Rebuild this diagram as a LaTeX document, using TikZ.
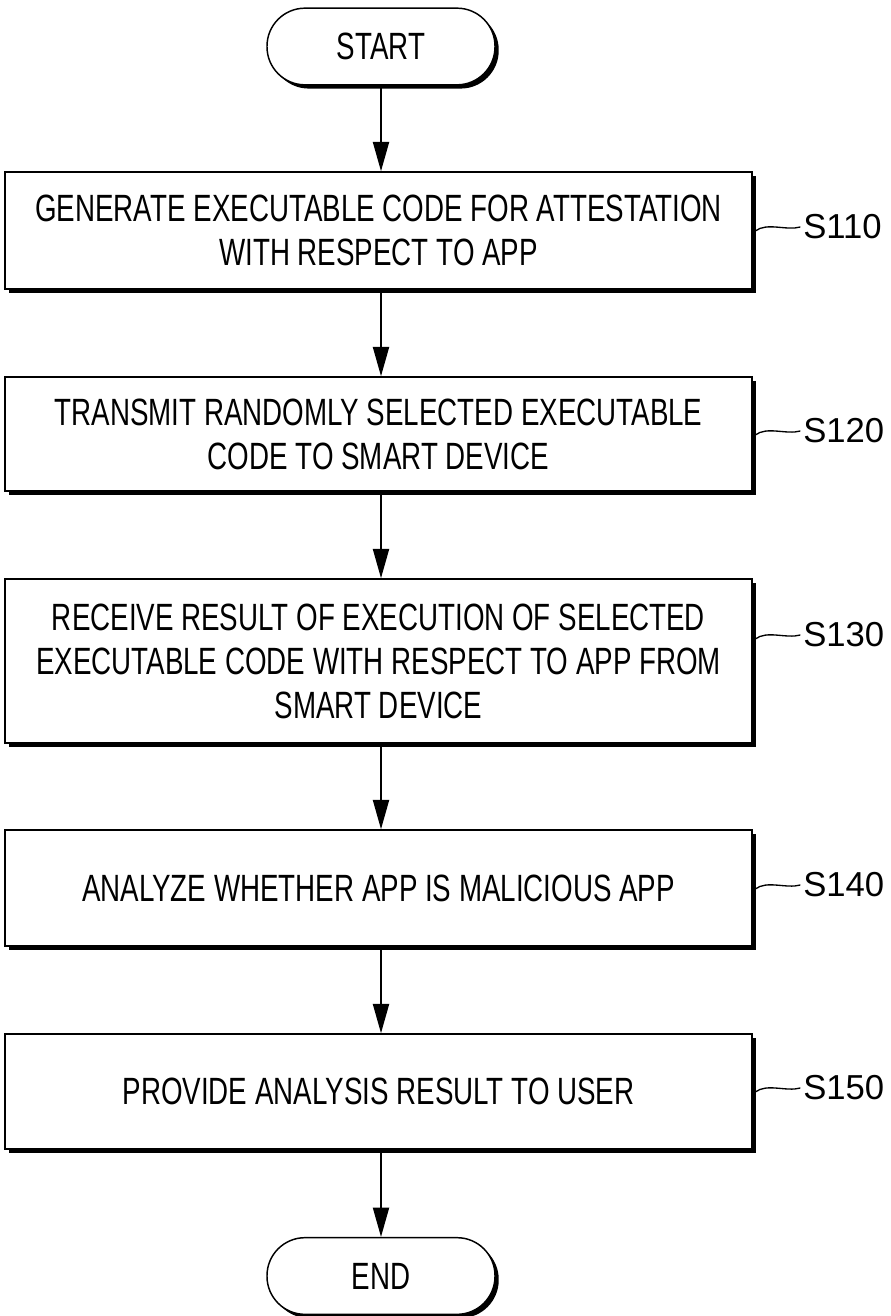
\documentclass[tikz,border=0pt]{standalone}
\usepackage{fontspec}
\setmainfont[FakeStretch=0.73]{Liberation Sans}
\newfontfamily\labelfont{Liberation Sans}
\usetikzlibrary{arrows.meta,shadows}
\begin{document}
\begin{tikzpicture}[x=0.75pt,y=-0.75pt,
  shadowed/.style={drop shadow={shadow xshift=2.8pt, shadow yshift=-2.8pt, fill=black, opacity=1}},
  stepbox/.style={shadowed, draw, line width=1.1pt, fill=white, minimum width=560pt,
    align=center, inner sep=0pt, font=\fontsize{28.5}{33}\selectfont},
  term/.style={shadowed, draw, line width=1.1pt, fill=white, rounded corners=28.5pt,
    minimum width=171pt, minimum height=57.5pt, inner sep=0pt, font=\fontsize{28.5}{33}\selectfont},
  arr/.style={-{Triangle[length=22pt,width=12pt]}, line width=1.5pt},
  lab/.style={anchor=west, inner sep=0pt, font=\labelfont\fontsize{26}{30}\selectfont},
  wave/.style={line width=1pt}
]
\useasboundingbox (0,0) rectangle (891,1316);

\node[term] (start) at (381,46.5) {START};
\node[stepbox, minimum height=87.75pt] (b1) at (378.5,230.5)
  {GENERATE EXECUTABLE CODE FOR ATTESTATION\\WITH RESPECT TO APP};
\node[stepbox, minimum height=85.5pt] (b2) at (378.5,434)
  {TRANSMIT RANDOMLY SELECTED EXECUTABLE\\CODE TO SMART DEVICE};
\node[stepbox, minimum height=123pt] (b3) at (378.5,661)
  {RECEIVE RESULT OF EXECUTION OF SELECTED\\EXECUTABLE CODE WITH RESPECT TO APP FROM\\SMART DEVICE};
\node[stepbox, minimum height=87pt] (b4) at (378.5,888)
  {ANALYZE WHETHER APP IS MALICIOUS APP};
\node[stepbox, minimum height=86.25pt] (b5) at (378.5,1091.5)
  {PROVIDE ANALYSIS RESULT TO USER};
\node[term] (end) at (381,1276) {END};

\draw[arr] (start.south) -- (start.south |- b1.north);
\draw[arr] (start.south |- b1.south) -- (start.south |- b2.north);
\draw[arr] (start.south |- b2.south) -- (start.south |- b3.north);
\draw[arr] (start.south |- b3.south) -- (start.south |- b4.north);
\draw[arr] (start.south |- b4.south) -- (start.south |- b5.north);
\draw[arr] (start.south |- b5.south) -- (end.north);

\node[lab] (l1) at (803,227) {S110};
\node[lab] (l2) at (803,431) {S120};
\node[lab] (l3) at (803,635) {S130};
\node[lab] (l4) at (803,885) {S140};
\node[lab] (l5) at (803,1088) {S150};

\foreach \i in {1,...,5}{
  \draw[wave] ([xshift=2pt]b\i.east |- l\i.west) ++(0,4)
    .. controls +(12,-9) and +(-14,4) .. ([xshift=-2pt]l\i.west);
}
\end{tikzpicture}
\end{document}
